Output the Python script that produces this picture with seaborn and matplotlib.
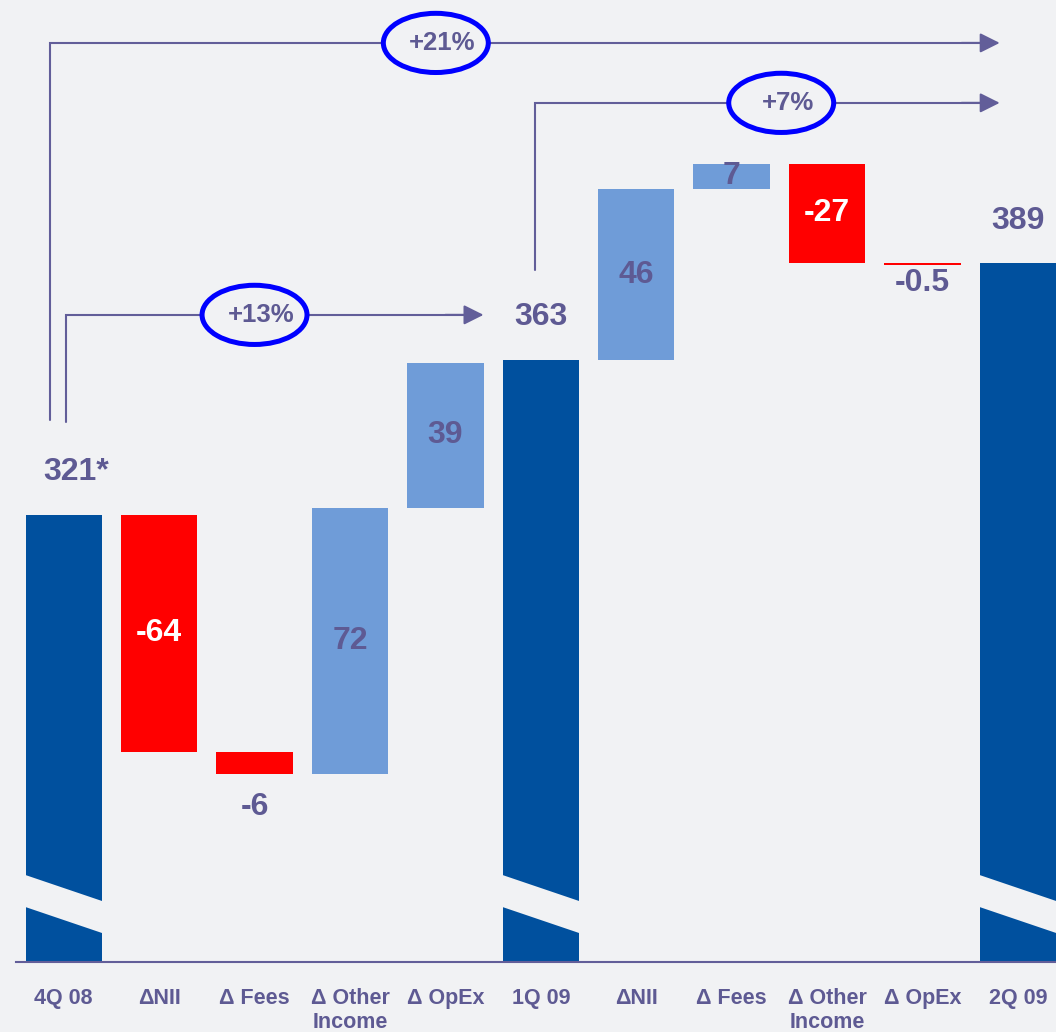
import numpy as np
import pandas as pd
import matplotlib
matplotlib.use("Agg")
import matplotlib.pyplot as plt
from matplotlib.patches import Ellipse, Polygon
import seaborn as sns

# ---- data -------------------------------------------------------------
steps = ["4Q 08", "ΔNII", "Δ Fees", "Δ Other\nIncome", "Δ OpEx", "1Q 09",
         "ΔNII", "Δ Fees", "Δ Other\nIncome", "Δ OpEx", "2Q 09"]
values = [321, -64, -6, 72, 39, 363, 46, 7, -27, -0.5, 389]
is_total = [True, False, False, False, False, True,
            False, False, False, False, True]
value_labels = ["321*", "-64", "-6", "72", "39", "363",
                "46", "7", "-27", "-0.5", "389"]
# where each value label goes relative to its bar
label_place = ["above", "inside", "below", "inside", "inside", "above",
               "inside", "inside", "inside", "below", "above"]
growth_labels = ["+21%", "+13%", "+7%"]

# ---- styling ----------------------------------------------------------
BG = "#F1F2F4"
DARK = "#00509E"
LIGHT = "#6F9CD8"
RED = "#FF0000"
TEXT = "#5E5A93"
LINE = "#625E99"
RING = "#0000FF"

sns.set_style("white")
plt.rcParams["font.family"] = ["Liberation Sans", "DejaVu Sans"]
plt.rcParams["font.weight"] = "bold"

# ---- waterfall geometry from the values --------------------------------
bases, spans, colors = [], [], []
level = 0.0
for v, tot in zip(values, is_total):
    if tot:
        bases.append(0.0)
        spans.append(v)
        colors.append(DARK)
        level = v
    else:
        lo = min(level, level + v)
        bases.append(lo)
        spans.append(abs(v))
        colors.append(LIGHT if v > 0 else RED)
        level += v

df = pd.DataFrame({"key": [f"s{i}" for i in range(len(steps))],
                   "span": spans, "base": bases})

fig = plt.figure(figsize=(10.56, 10.32), dpi=100, facecolor=BG)
ax = fig.add_axes([16 / 1056, 70 / 1032, 1 - 16 / 1056, 962 / 1032])
ax.set_facecolor(BG)

sns.barplot(data=df, x="key", y="span", bottom=df["base"].to_numpy(),
            color=DARK, saturation=1, width=0.8, errorbar=None,
            linewidth=0, ax=ax)
for patch, c in zip(ax.patches, colors):
    patch.set_facecolor(c)
    patch.set_edgecolor("none")

y_floor, y_top = 200.2, 460.2
ax.set_ylim(y_floor, y_top)
ax.set_xlim(-0.5, 10.4)

# axis break bands across the total bars
slope = -8.75
for i, tot in enumerate(is_total):
    if not tot:
        continue
    xl, xr = i - 0.45, i + 0.45
    up_c, lo_c = 220.2, 211.55
    poly = Polygon([(xl, up_c + slope * (xl - i)), (xr, up_c + slope * (xr - i)),
                    (xr, lo_c + slope * (xr - i)), (xl, lo_c + slope * (xl - i))],
                   closed=True, facecolor=BG, edgecolor="none", zorder=3)
    ax.add_patch(poly)

# ---- value labels ------------------------------------------------------
for i, (v, lab, place) in enumerate(zip(values, value_labels, label_place)):
    top = bases[i] + spans[i]
    if place == "above":
        dx = 9 if lab.endswith("*") else 0
        ax.annotate(lab, xy=(i, top), xytext=(dx, 25), textcoords="offset points",
                    ha="center", va="baseline", fontsize=23, fontweight="bold",
                    color=TEXT, zorder=5)
    elif place == "below":
        off = -13 if spans[i] >= 1 else -2
        ax.annotate(lab, xy=(i, bases[i]), xytext=(0, off),
                    textcoords="offset points", ha="center", va="top",
                    fontsize=23, fontweight="bold", color=TEXT, zorder=5)
    else:
        ax.text(i, bases[i] + spans[i] / 2, lab, ha="center", va="center",
                fontsize=23, fontweight="bold",
                color="white" if v < 0 else TEXT, zorder=5)

# ---- growth brackets ---------------------------------------------------
brackets = [
    # x of riser, riser bottom, riser top, arrow tip, ring centre
    dict(x0=-0.147, y0=346.7, y1=448.6, tip=9.81, cx=3.90),
    dict(x0=0.02, y0=346.1, y1=375.1, tip=4.40, cx=2.00),
    dict(x0=4.94, y0=387.2, y1=432.4, tip=9.81, cx=7.52),
]
for b, lab in zip(brackets, growth_labels):
    ax.plot([b["x0"], b["x0"], b["tip"] - 0.1], [b["y0"], b["y1"], b["y1"]],
            color=LINE, lw=1.5, solid_joinstyle="miter", zorder=4,
            clip_on=False)
    ax.annotate("", xy=(b["tip"], b["y1"]), xytext=(b["tip"] - 0.4, b["y1"]),
                arrowprops=dict(arrowstyle="-|>,head_length=0.6,head_width=0.3",
                                mutation_scale=20, color=LINE, lw=1.5,
                                shrinkA=0, shrinkB=0), zorder=4)
    ax.add_patch(Ellipse((b["cx"], b["y1"]), width=1.10, height=16.0,
                         facecolor=BG, edgecolor=RING, lw=3.6, zorder=5))
    ax.text(b["cx"] + 0.07, b["y1"], lab, ha="center", va="center",
            fontsize=18.5, fontweight="bold", color=TEXT, zorder=6)

# ---- axes --------------------------------------------------------------
for s in ("top", "right", "left"):
    ax.spines[s].set_visible(False)
ax.spines["bottom"].set_color(LINE)
ax.spines["bottom"].set_linewidth(1.5)
ax.set_yticks([])
ax.set_xticks(range(len(steps)))
ax.set_xticklabels(steps, fontsize=15.5, fontweight="bold", color=TEXT,
                   linespacing=1.2)
ax.set_xticks(np.arange(-0.5, len(steps) - 0.5, 1), minor=True)
ax.tick_params(axis="x", which="major", length=0, pad=18.5)
ax.tick_params(axis="x", which="minor", length=4.5, width=1.5, color=LINE)
ax.set_xlabel("")
ax.set_ylabel("")

fig.savefig("out.png", dpi=100, facecolor=BG)
